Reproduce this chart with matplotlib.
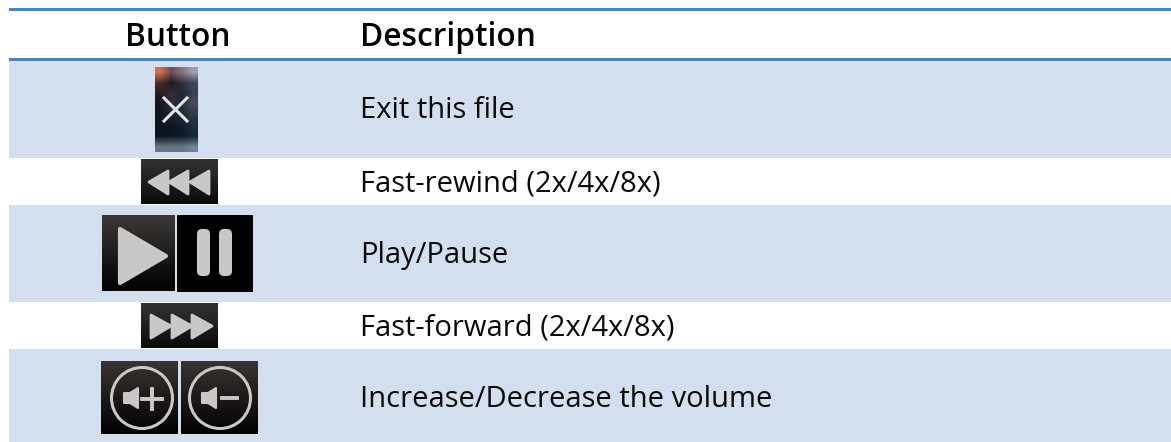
import numpy as np
import matplotlib
matplotlib.use("Agg")
import matplotlib.pyplot as plt
from matplotlib.patches import Polygon, Circle, FancyBboxPatch, Rectangle

plt.rcParams['font.family'] = ['Open Sans', 'DejaVu Sans']

headers = ["Button", "Description"]
descriptions = ["Exit this file", "Fast-rewind (2x/4x/8x)", "Play/Pause",
                "Fast-forward (2x/4x/8x)", "Increase/Decrease the volume"]
row_edges = [61, 158, 205, 302, 349, 442]
baselines = [118, 191, 263, 335, 407]

BLUE = "#4f81bd"; BAND = "#d3dfee"; GLYPH = "#c8c8c8"
W, H = 1171, 442
fig = plt.figure(figsize=(W/100, H/100), dpi=100)
ax = fig.add_axes([0, 0, 1, 1])
ax.set_xlim(0, W); ax.set_ylim(H, 0); ax.axis("off")

LEFT = 9
for i in range(5):
    if i % 2 == 0:
        ax.add_patch(Rectangle((LEFT, row_edges[i]), W-LEFT, row_edges[i+1]-row_edges[i],
                               fc=BAND, ec="none", zorder=1))
for y in (8, 58):
    ax.add_patch(Rectangle((LEFT, y), W-LEFT, 3, fc=BLUE, ec="none", zorder=2))

ax.text(177.5, 46, headers[0], ha="center", va="baseline", fontsize=22.8, color="black", fontweight="semibold", zorder=5)
ax.text(360, 46, headers[1], ha="left", va="baseline", fontsize=22.8, color="black", fontweight="semibold", zorder=5)
for d, b in zip(descriptions, baselines):
    ax.text(360, b, d, ha="left", va="baseline", fontsize=21, color="#0a0a0a", zorder=5)

def bg(x0, x1, y0, y1, top, bot):
    t = np.array(matplotlib.colors.to_rgb(top)); b = np.array(matplotlib.colors.to_rgb(bot))
    f = np.linspace(0, 1, 64)[:, None, None]
    img = t[None, None, :]*(1-f) + b[None, None, :]*f
    ax.imshow(img, extent=(x0, x1, y1, y0), aspect="auto", zorder=3, interpolation="bilinear")

def tri(pts, lw=3):
    ax.add_patch(Polygon(pts, closed=True, fc=GLYPH, ec=GLYPH, lw=lw, joinstyle="round", zorder=4))

# Exit icon
exit_img = np.array([
    [[.80,.45,.30],[.45,.30,.30],[.50,.45,.50],[.62,.62,.70]],
    [[.30,.18,.16],[.12,.10,.12],[.20,.18,.24],[.24,.28,.36]],
    [[.14,.11,.12],[.20,.18,.22],[.12,.14,.20],[.22,.25,.33]],
    [[.08,.09,.11],[.18,.18,.22],[.14,.18,.24],[.28,.30,.34]],
    [[.06,.09,.13],[.12,.14,.18],[.12,.16,.22],[.18,.22,.28]],
    [[.05,.08,.12],[.05,.09,.13],[.07,.11,.17],[.12,.18,.26]],
    [[.04,.08,.12],[.04,.08,.12],[.05,.10,.15],[.09,.16,.22]],
    [[.40,.46,.50],[.40,.46,.50],[.40,.46,.52],[.44,.52,.58]],
])
ax.imshow(exit_img, extent=(155, 198, 152, 67), aspect="auto", zorder=3, interpolation="bilinear")
ax.plot([164, 187], [98, 121], color="#e4e4e4", lw=2.2, zorder=4)
ax.plot([164, 187], [121, 98], color="#e4e4e4", lw=2.2, zorder=4)

# Rewind
bg(141, 218, 159, 204, "#333333", "#0a0a0a")
for x in (148, 168, 189):
    tri([(x+1, 182), (x+20, 171), (x+20, 194)], lw=2)
# Play
bg(102, 175, 215, 291, "#3c3838", "#000000")
tri([(120, 229), (166, 256), (120, 283)])
# Pause
bg(177, 253, 215, 292, "#000000", "#000000")
for x in (197, 219):
    ax.add_patch(FancyBboxPatch((x+5, 234), 3, 37, boxstyle="round,pad=5,rounding_size=5",
                                fc=GLYPH, ec="none", zorder=4))
# Forward
bg(141, 218, 303, 348, "#333333", "#0a0a0a")
for x in (151, 172, 192):
    tri([(x, 315), (x+20, 326), (x, 338)], lw=2)
# Volume
for x0, cx in ((101, 142), (181, 220)):
    bg(x0, x0+77, 361, 434, "#3a3434", "#000000")
    ax.add_patch(Circle((cx, 398), 30.5, fc="none", ec=GLYPH, lw=2.2, zorder=4))
    tri([(cx-18, 393), (cx-12, 393), (cx-4, 388), (cx-4, 408), (cx-12, 403), (cx-18, 403)], lw=1.5)
ax.plot([142, 162], [399, 399], color=GLYPH, lw=2.8, zorder=4)
ax.plot([152, 152], [389, 409], color=GLYPH, lw=2.8, zorder=4)
ax.plot([222, 237], [398, 398], color=GLYPH, lw=2.8, zorder=4)

ax.set_xlim(0, W); ax.set_ylim(H, 0)
fig.savefig("out.png", dpi=100, facecolor="white")
